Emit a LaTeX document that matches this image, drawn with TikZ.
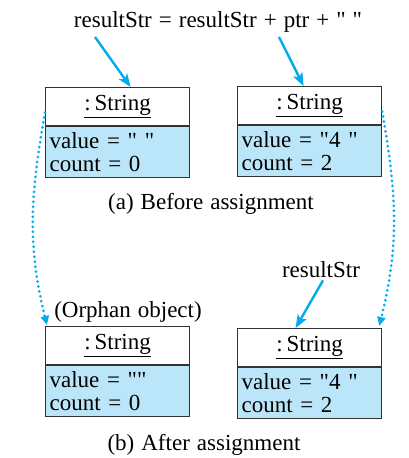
\documentclass[tikz,border=0pt]{standalone}
\usepackage{fontspec}
\setmainfont{Liberation Serif}[Ligatures=TeXOff]
\usepackage{tikz}
\usetikzlibrary{arrows.meta,positioning}
\definecolor{ptrblue}{RGB}{0,172,236}
\definecolor{fieldblue}{RGB}{187,229,248}
\newcommand\bigtext{\fontsize{23}{23}\selectfont\spaceskip=7pt\relax}

\begin{document}
\begin{tikzpicture}[x=1pt,y=1pt,
  hdr/.style={draw=black!80,line width=1.2pt,fill=white,minimum width=144pt,
              minimum height=38pt,inner sep=0pt,font=\bigtext},
  fields/.style={draw=black!80,line width=1.2pt,fill=fieldblue,minimum width=144pt,
                 minimum height=51pt,text width=136pt,align=left,inner sep=0pt,
                 font=\bigtext},
  lbl/.style={inner sep=0pt,font=\bigtext},
  ref/.style={-{Stealth[length=13pt,width=10pt,inset=3pt]},line width=2.4pt,ptrblue},
  moved/.style={-{Triangle[length=9pt,width=8pt]},line width=3pt,ptrblue,
                line cap=round,dash pattern=on 0pt off 5pt}
]
\useasboundingbox (0,0) rectangle (409,458);

\node[lbl,anchor=base] (stmt) at (218,430) {resultStr = resultStr + ptr + " "};
\coordinate (p1) at (95,421);
\coordinate (p2) at (279,421);

\node[hdr,anchor=north west] (hdr1) at (45,371) {\underline{:\,String}};
\node[fields,below=0pt of hdr1] (val1) {value = " "\\count = 0};
\node[hdr,anchor=north west] (hdr2) at (237,372) {\underline{:\,String}};
\node[fields,below=0pt of hdr2] (val2) {value = "4 "\\count = 2};
\node[lbl,anchor=base] (capa) at (211,248) {(a) Before assignment};

\node[lbl,anchor=base] (orphan) at (128,140) {(Orphan object)};
\node[lbl,anchor=base] (rs) at (321,180) {resultStr};
\node[hdr,anchor=north west] (hdr3) at (45,132) {\underline{:\,String}};
\node[fields,below=0pt of hdr3] (val3) {value = ""\\count = 0};
\node[hdr,anchor=north west] (hdr4) at (237,130) {\underline{:\,String}};
\node[fields,below=0pt of hdr4] (val4) {value = "4 "\\count = 2};
\node[lbl,anchor=base] (capb) at (204,8) {(b) After assignment};

\draw[ref] (p1) -- ([xshift=13pt]hdr1.north);
\draw[ref] (p2) -- ([xshift=-6pt]hdr2.north);
\draw[ref] ([xshift=2pt,yshift=-2pt]rs.south) -- ([xshift=-14pt]hdr4.north);

\draw[moved] ([yshift=-6pt]hdr1.west) to[out=-100,in=104] ([xshift=2pt,yshift=1pt]hdr3.north west);
\draw[moved] ([yshift=-6pt]hdr2.east) to[out=-80,in=76] ([xshift=-3pt,yshift=2pt]hdr4.north east);
\end{tikzpicture}
\end{document}
